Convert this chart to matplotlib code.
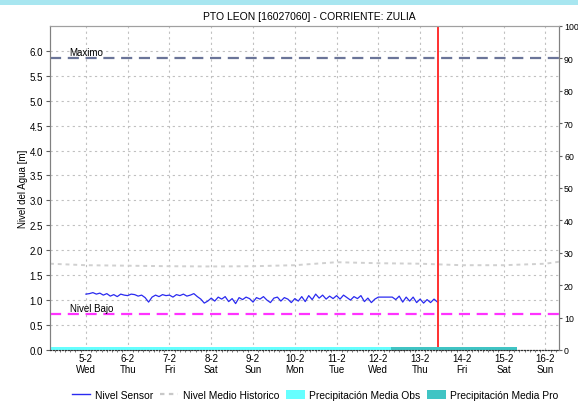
import matplotlib
matplotlib.use("Agg")
import matplotlib.pyplot as plt
from matplotlib.lines import Line2D
from matplotlib.patches import Patch, Rectangle
import numpy as np

plt.rcParams['font.family'] = ['Liberation Sans', 'DejaVu Sans']

# nivel sensor, cada 2 horas desde el 5-2 00:00
sensor = [1.12, 1.13, 1.15, 1.12, 1.14, 1.10, 1.13, 1.08, 1.11, 1.07, 1.12, 1.10,
          1.09, 1.12, 1.11, 1.08, 1.10, 1.05, 0.96, 1.06, 1.10, 1.07, 1.11, 1.09,
          1.10, 1.06, 1.11, 1.09, 1.12, 1.08, 1.10, 1.13, 1.07, 1.02, 0.94, 0.98,
          1.04, 0.98, 1.06, 1.02, 1.07, 0.97, 1.03, 0.93, 1.05, 1.01, 1.06, 1.03,
          0.96, 1.05, 1.02, 1.07, 1.00, 0.95, 1.04, 1.06, 0.98, 1.05, 1.02, 0.95,
          1.03, 0.98, 1.07, 0.97, 1.09, 1.01, 1.12, 1.04, 1.10, 1.02, 1.08, 1.03,
          1.09, 1.02, 1.10, 1.05, 1.00, 1.07, 1.03, 1.09, 0.97, 1.04, 0.95, 1.02,
          1.06, 1.06, 1.06, 1.06, 1.06, 1.01, 1.08, 0.96, 1.06, 0.98, 1.06, 0.95,
          1.02, 0.94, 1.01, 0.95, 1.02, 0.96]
sensor_t0 = 5.0

# nivel medio historico (dia, nivel)
hist_dias = [4.14, 5.0, 6.0, 7.0, 8.0, 9.0, 10.0, 11.0, 12.0, 13.0, 14.0, 15.0, 16.0, 16.33]
hist_nivel = [1.73, 1.70, 1.69, 1.68, 1.675, 1.68, 1.70, 1.76, 1.74, 1.73, 1.70, 1.70, 1.73, 1.77]

# precipitacion (inicio de dia, valor en eje derecho)
prec_obs_dias = [3.31, 4.31, 5.31, 6.31, 7.31, 8.31, 9.31, 10.31, 11.31]
prec_obs = [0.9, 0.9, 0.9, 0.9, 0.9, 0.9, 0.9, 0.9, 0.9]
prec_pro_dias = [12.31, 13.31, 14.31]
prec_pro = [0.9, 0.9, 0.9]

dias = [5, 6, 7, 8, 9, 10, 11, 12, 13, 14, 15, 16]
etiquetas = ['5-2\nWed', '6-2\nThu', '7-2\nFri', '8-2\nSat', '9-2\nSun', '10-2\nMon',
             '11-2\nTue', '12-2\nWed', '13-2\nThu', '14-2\nFri', '15-2\nSat', '16-2\nSun']

nivel_max = 5.85
nivel_bajo = 0.73
ahora = 13.44

fig = plt.figure(figsize=(5.78, 4.02), dpi=100)
fig.patches.append(Rectangle((0, 0.985), 1, 0.015, transform=fig.transFigure,
                             facecolor='#a8e6f0', edgecolor='none'))
ax = fig.add_axes([0.0865, 0.127, 0.881, 0.806])
ax2 = ax.twinx()

ax.set_xlim(4.14, 16.33)
ax.set_ylim(0, 6.5)
ax2.set_ylim(0, 100)

ax2.bar(prec_obs_dias, prec_obs, width=1.0, align='edge', color='#66ffff', zorder=2)
ax2.bar(prec_pro_dias, prec_pro, width=1.0, align='edge', color='#40c4c4', zorder=2)

t = sensor_t0 + np.arange(len(sensor)) / 12.0
ax.plot(hist_dias, hist_nivel, color='#d0d0d0', lw=1.4, ls=(0, (2, 2)), zorder=3)
ax.plot(t, sensor, color='#2a2af0', lw=0.9, zorder=4)

ax.axhline(nivel_max, color='#6a7498', lw=1.6, ls=(0, (5, 3)), zorder=3)
ax.axhline(nivel_bajo, color='#ff33ff', lw=1.6, ls=(0, (5, 3)), zorder=3)
ax.text(4.6, nivel_max + 0.02, 'Maximo', fontsize=7, va='bottom')
ax.text(4.62, nivel_bajo + 0.02, 'Nivel Bajo', fontsize=7, va='bottom')
ax.axvline(ahora, color='#ff2020', lw=1.3, zorder=5)

ax.set_yticks(np.arange(0, 6.01, 0.5))
ax.set_yticklabels(['%.1f' % v for v in np.arange(0, 6.01, 0.5)])
ax2.set_yticks(np.arange(0, 101, 10))
ax.set_xticks(dias)
ax.set_xticklabels(etiquetas)
ax.set_xticks(np.arange(4.25, 16.33, 0.125), minor=True)

ax.grid(True, color='#c0c0c0', lw=0.8, ls=(0, (2, 3)))
for a in (ax, ax2):
    a.tick_params(labelsize=7, length=3, width=0.8, color='#606060', pad=2)
ax2.tick_params(axis='y', length=2.5, pad=1, labelsize=6.3)
ax.tick_params(axis='x', which='minor', length=1.5, width=0.5, color='#404040')
ax.tick_params(axis='x', which='major', length=0)

for a in (ax, ax2):
    a.spines['left'].set_color('#808080')
    a.spines['right'].set_color('#808080')
    a.spines['top'].set_color('#a0a0a0')
    a.spines['bottom'].set_color('#303030')
    a.spines['bottom'].set_linestyle(':')

ax.set_ylabel('Nivel del Agua [m]', fontsize=7, labelpad=1)
fig.text(0.535, 0.95, 'PTO LEON [16027060] - CORRIENTE: ZULIA', ha='center', fontsize=7.5)

handles = [Line2D([], [], color='#2a2af0', lw=1),
           Line2D([], [], color='#c8c8c8', lw=1.6, ls=(0, (2, 2))),
           Patch(facecolor='#66ffff'),
           Patch(facecolor='#40c4c4')]
labels = ['Nivel Sensor', 'Nivel Medio Historico', 'Precipitación Media Obs', 'Precipitación Media Pro']
fig.legend(handles, labels, loc='center', bbox_to_anchor=(0.545, 0.015), ncol=4, frameon=False,
           fontsize=7.4, handlelength=1.8, handletextpad=0.4, columnspacing=0.7,
           handleheight=0.9)

fig.savefig('out.png', dpi=100)
